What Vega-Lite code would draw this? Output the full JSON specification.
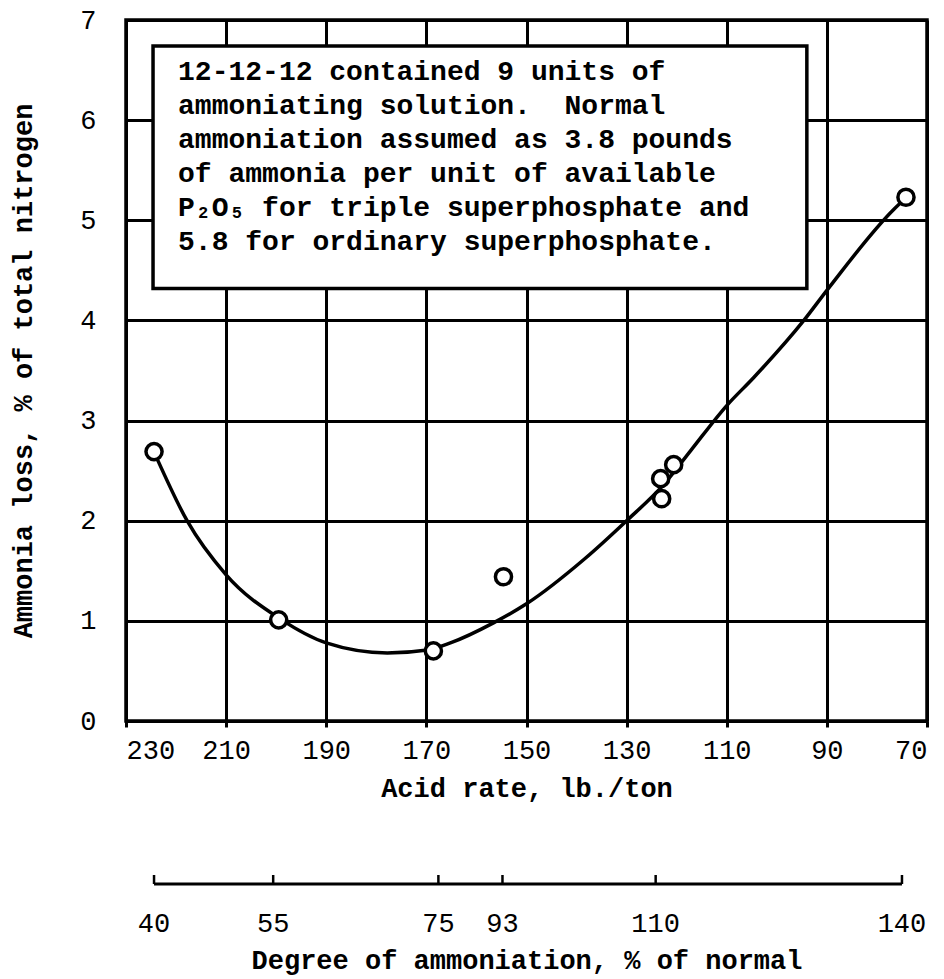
{
  "$schema": "https://vega.github.io/schema/vega-lite/v6.json",
  "background": "white",
  "padding": {"left": 8, "top": 4, "right": 2, "bottom": 2},
  "config": {
    "font": "Liberation Mono",
    "view": {"stroke": null},
    "axis": {
      "labelFont": "Liberation Mono",
      "titleFont": "Liberation Mono",
      "labelColor": "black",
      "titleColor": "black",
      "labelFontSize": 27,
      "titleFontSize": 27,
      "titleFontWeight": "bold"
    },
    "concat": {"spacing": 70}
  },
  "datasets": {
    "points": [
      {"acid": 224.4, "loss": 2.69},
      {"acid": 199.5, "loss": 1.01},
      {"acid": 168.6, "loss": 0.70},
      {"acid": 154.6, "loss": 1.44},
      {"acid": 123.0, "loss": 2.22},
      {"acid": 123.2, "loss": 2.42},
      {"acid": 120.6, "loss": 2.56},
      {"acid": 74.2, "loss": 5.23}
    ],
    "curve": [
      {"acid": 223.8, "loss": 2.62},
      {"acid": 217.8, "loss": 2.0},
      {"acid": 210.0, "loss": 1.46},
      {"acid": 199.2, "loss": 1.02},
      {"acid": 190.0, "loss": 0.78},
      {"acid": 177.8, "loss": 0.68},
      {"acid": 169.8, "loss": 0.71},
      {"acid": 165.2, "loss": 0.78},
      {"acid": 156.6, "loss": 0.98},
      {"acid": 150.0, "loss": 1.17},
      {"acid": 138.6, "loss": 1.61},
      {"acid": 130.0, "loss": 2.0},
      {"acid": 122.6, "loss": 2.36},
      {"acid": 117.2, "loss": 2.7},
      {"acid": 110.0, "loss": 3.15},
      {"acid": 104.6, "loss": 3.43},
      {"acid": 94.6, "loss": 4.0},
      {"acid": 90.0, "loss": 4.3},
      {"acid": 76.6, "loss": 5.11},
      {"acid": 74.5, "loss": 5.21}
    ],
    "note": [
      {"text": "12-12-12 contained 9 units of\nammoniating solution.\u00a0 Normal\nammoniation assumed as 3.8 pounds\nof ammonia per unit of available\nP₂O₅ for triple superphosphate and\n5.8 for ordinary superphosphate."}
    ],
    "degree": [
      {"acid": 224.4, "degree": "40"},
      {"acid": 200.6, "degree": "55"},
      {"acid": 167.6, "degree": "75"},
      {"acid": 154.8, "degree": "93"},
      {"acid": 124.2, "degree": "110"},
      {"acid": 75.0, "degree": "140"}
    ]
  },
  "vconcat": [
    {
      "width": 801,
      "height": 701,
      "view": {"stroke": "black", "strokeWidth": 3.5},
      "layer": [
        {
          "data": {"name": "curve"},
          "mark": {"type": "line", "color": "black", "strokeWidth": 3.5, "interpolate": "monotone"},
          "encoding": {
            "x": {
              "field": "acid", "type": "quantitative",
              "scale": {"domain": [70, 230], "reverse": true, "nice": false, "zero": false},
              "axis": {
                "values": [230, 210, 190, 170, 150, 130, 110, 90, 70],
                "format": "d",
                "grid": true, "gridColor": "black", "gridWidth": 3, "gridOpacity": 1,
                "domain": false,
                "ticks": true, "tickColor": "black", "tickWidth": 3, "tickSize": 6,
                "labelPadding": 10,
                "titlePadding": 12,
                "title": "Acid rate, lb./ton"
              }
            },
            "y": {
              "field": "loss", "type": "quantitative",
              "scale": {"domain": [0, 7], "nice": false, "zero": false},
              "axis": {
                "values": [0, 1, 2, 3, 4, 5, 6, 7],
                "format": "d",
                "grid": true, "gridColor": "black", "gridWidth": 3, "gridOpacity": 1,
                "domain": false,
                "ticks": false,
                "labelPadding": 30,
                "titlePadding": 42,
                "title": "Ammonia loss, % of total nitrogen"
              }
            }
          }
        },
        {
          "data": {"name": "note"},
          "mark": {"type": "rect", "fill": "white", "stroke": "black", "strokeWidth": 3.5},
          "encoding": {
            "x": {"datum": 224.6, "type": "quantitative"},
            "x2": {"datum": 94.0},
            "y": {"datum": 6.74, "type": "quantitative"},
            "y2": {"datum": 4.32}
          }
        },
        {
          "data": {"name": "note"},
          "mark": {"type": "text", "align": "left", "baseline": "alphabetic", "lineBreak": "\n", "lineHeight": 34, "fontSize": 28, "font": "Liberation Mono", "fontWeight": "bold", "color": "black"},
          "encoding": {
            "x": {"datum": 219.6, "type": "quantitative"},
            "y": {"datum": 6.40, "type": "quantitative"},
            "text": {"field": "text"}
          }
        },
        {
          "data": {"name": "points"},
          "mark": {"type": "point", "shape": "circle", "filled": true, "fill": "white", "stroke": "black", "strokeWidth": 3.5, "size": 260, "opacity": 1},
          "encoding": {
            "x": {"field": "acid", "type": "quantitative"},
            "y": {"field": "loss", "type": "quantitative"}
          }
        }
      ]
    },
    {
      "width": 801,
      "height": 9,
      "data": {"name": "degree"},
      "layer": [
        {
          "mark": {"type": "rule", "color": "black", "strokeWidth": 3},
          "encoding": {
            "x": {
              "aggregate": "max", "field": "acid", "type": "quantitative",
              "scale": {"domain": [70, 230], "reverse": true, "nice": false, "zero": false},
              "axis": {
                "labels": false, "ticks": false, "domain": false, "grid": false,
                "titlePadding": 63,
                "title": "Degree of ammoniation, % of normal"
              }
            },
            "x2": {"aggregate": "min", "field": "acid"},
            "y": {"datum": 0, "type": "quantitative", "scale": {"domain": [0, 1]}, "axis": null}
          }
        },
        {
          "mark": {"type": "rule", "color": "black", "strokeWidth": 2.5},
          "encoding": {
            "x": {"field": "acid", "type": "quantitative"},
            "y": {"datum": 0, "type": "quantitative"},
            "y2": {"datum": 1}
          }
        },
        {
          "mark": {"type": "text", "fontSize": 27, "font": "Liberation Mono", "baseline": "middle", "dy": 40, "color": "black"},
          "encoding": {
            "x": {"field": "acid", "type": "quantitative"},
            "y": {"datum": 0, "type": "quantitative"},
            "text": {"field": "degree"}
          }
        }
      ]
    }
  ]
}
